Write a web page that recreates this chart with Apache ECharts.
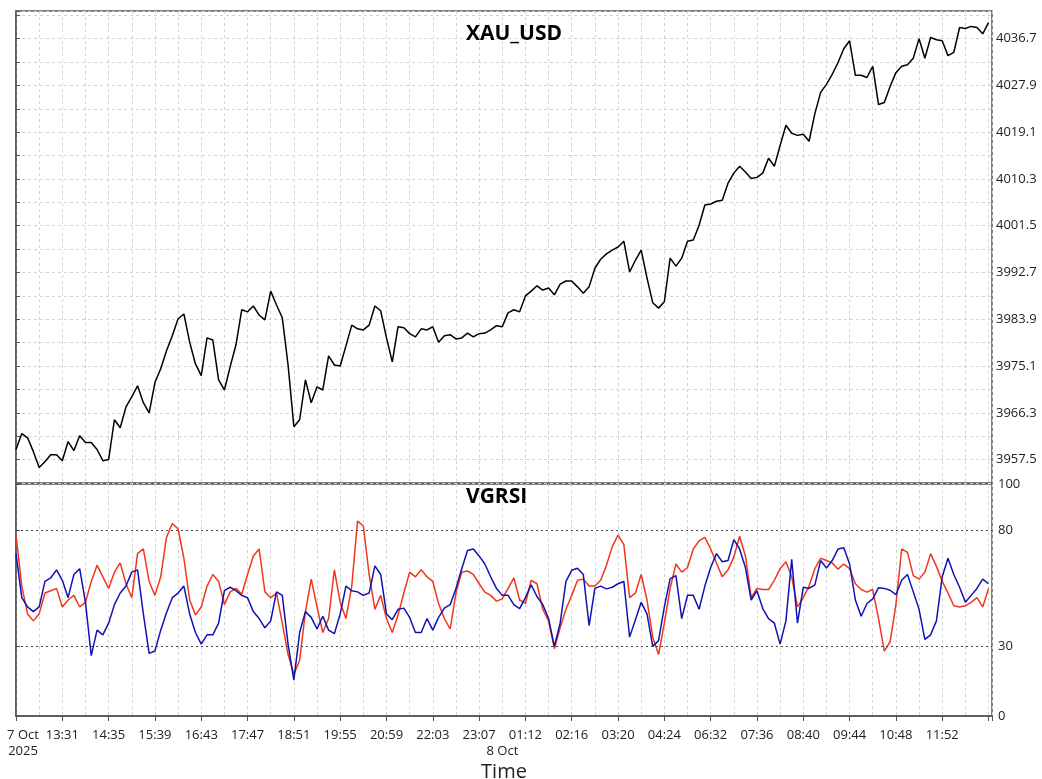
<!DOCTYPE html>
<html>
<head>
<meta charset="utf-8">
<title>XAU_USD / VGRSI</title>
<script src="https://cdn.jsdelivr.net/npm/echarts@6/dist/echarts.min.js"></script>
<style>
  html, body { margin: 0; padding: 0; background: #fff; }
  #chart { width: 1042px; height: 779px; }
</style>
</head>
<body>
<div id="chart"></div>
<script>
// one sample every 8 one-minute bars, x = sample index
const tickLabels = ['7 Oct\n2025', '13:31', '14:35', '15:39', '16:43', '17:47', '18:51', '19:55', '20:59', '22:03',
  '23:07', '01:12', '02:16', '03:20', '04:24', '06:32', '07:36', '08:40', '09:44', '10:48', '11:52']
const labelEvery = 8

const price = [3959.4, 3962.4, 3961.6, 3959.0, 3956.0, 3957.1, 3958.4, 3958.4, 3957.3, 3960.9,
  3959.2, 3962.0, 3960.7, 3960.7, 3959.4, 3957.3, 3957.5, 3965.0, 3963.5, 3967.4,
  3969.3, 3971.4, 3968.2, 3966.3, 3972.0, 3974.6, 3978.0, 3980.8, 3984.0, 3984.9,
  3979.6, 3975.5, 3973.3, 3980.4, 3980.0, 3972.5, 3970.6, 3975.0, 3979.1, 3985.7,
  3985.3, 3986.4, 3984.7, 3983.8, 3989.2, 3986.6, 3984.2, 3975.3, 3963.7, 3965.0,
  3972.5, 3968.2, 3971.2, 3970.6, 3977.0, 3975.3, 3975.1, 3978.9, 3982.8, 3982.1,
  3981.9, 3982.8, 3986.4, 3985.5, 3980.4, 3975.9, 3982.5, 3982.3, 3981.2, 3980.6,
  3982.1, 3981.9, 3982.5, 3979.6, 3980.8, 3981.0, 3980.2, 3980.4, 3981.3, 3980.6,
  3981.2, 3981.3, 3981.9, 3982.7, 3982.5, 3985.1, 3985.7, 3985.3, 3988.3, 3989.2,
  3990.2, 3989.4, 3989.8, 3988.5, 3990.5, 3991.1, 3991.1, 3990.0, 3988.8, 3990.0,
  3993.5, 3995.2, 3996.2, 3996.9, 3997.5, 3998.6, 3992.8, 3995.0, 3996.9, 3991.7,
  3987.0, 3986.0, 3987.2, 3995.4, 3993.9, 3995.4, 3998.6, 3998.8, 4001.6, 4005.4,
  4005.6, 4006.1, 4006.3, 4009.5, 4011.4, 4012.7, 4011.6, 4010.4, 4010.6, 4011.4,
  4014.2, 4012.7, 4016.6, 4020.4, 4018.9, 4018.5, 4018.7, 4017.4, 4022.6, 4026.6,
  4028.1, 4030.0, 4032.2, 4034.8, 4036.3, 4029.8, 4029.8, 4029.4, 4031.5, 4024.3,
  4024.7, 4027.7, 4030.3, 4031.5, 4031.8, 4033.0, 4036.7, 4033.0, 4036.9, 4036.5,
  4036.3, 4033.5, 4034.1, 4038.8, 4038.6, 4039.0, 4038.8, 4037.6, 4039.7]

const rsiRed = [78, 56, 44, 41, 44, 53, 54, 55, 47, 50,
  52, 47, 49, 58, 65, 60, 55, 62, 66, 57,
  51, 70, 72, 58, 52, 60, 77, 83, 80.6, 68,
  50, 43.5, 47, 56, 61, 58, 48, 53.5, 55, 52.5,
  61, 69, 72, 53.5, 51, 53, 40, 26.5, 18, 24,
  45, 59, 47, 36, 42, 63, 49, 42, 56, 84,
  82, 61, 46, 52, 42, 36, 43.5, 53, 62, 60,
  63, 60, 58, 48.5, 42, 37.5, 53, 62, 62.5, 61,
  57, 53.4, 52, 49.5, 50.5, 55, 59.5, 50, 48.5, 58.5,
  57, 46, 41, 29, 38, 46, 52, 58.5, 59, 56,
  56, 58.5, 65, 73, 78, 74, 51, 53, 61, 50,
  34, 26.5, 40, 55, 65.5, 62, 64, 72, 75.5, 77,
  72, 66, 60, 63, 68.5, 77.5, 69, 51, 55, 54.5,
  54.5, 58.5, 63.5, 66.5, 60, 47, 51, 56, 63.5, 68,
  67, 66, 63.3, 65.5, 63.5, 57, 54.5, 53.4, 54.5, 42,
  28, 32, 48, 72, 70.5, 60.5, 59, 62, 70, 64.5,
  58, 53, 47.5, 47, 47.5, 49, 51, 47, 55]

const rsiBlue = [70, 51, 47, 45, 47, 58, 59.5, 63, 58.5, 51,
  61, 63.5, 49, 26, 37, 35, 40, 48, 53, 56,
  62, 63, 44, 27, 28, 37, 44.5, 51, 53, 56,
  44, 36, 31, 35, 35, 40, 54, 55.5, 54, 52,
  51, 45, 42, 38, 41, 53.5, 52, 31, 15.5, 36,
  45, 42.5, 37.5, 43, 37, 35.5, 44, 56, 54, 53.5,
  52, 53, 64.7, 61, 44, 41.5, 46, 46.5, 42.5, 36,
  36, 42, 37, 42.5, 46.5, 48, 55, 63.5, 71.3, 72,
  69, 65.5, 60, 55, 52, 52, 48, 46.3, 51, 56.5,
  51.5, 48, 42, 30, 40, 58, 62.8, 63.7, 61, 39,
  55, 56, 54.8, 55.5, 57, 58, 34, 41.5, 49, 44,
  30, 32.5, 47, 59.2, 60.5, 42, 52, 52, 46, 56,
  64, 70, 66.5, 67, 76, 72, 64, 50, 54, 46.3,
  42, 40, 31, 41, 67.5, 40, 55.5, 55, 56.5, 67,
  63.8, 67, 72, 72.5, 65.5, 50, 43, 48.5, 50.5, 55.3,
  55, 54.2, 52.3, 58.5, 61, 53.5, 46, 33, 35, 41,
  60, 68, 61, 55.5, 49, 52, 55, 59, 57]

const rsiLevels = [30, 80]
const rsiTicks = [0, 30, 80, 100]

// price axis: ticks every 4.4, labelled every 8.8 starting at 3957.5
const priceBase = 3953.1
const priceStep = 4.4

const FONT = '"Open Sans", "DejaVu Sans", sans-serif'
const gridLine = { show: true, lineStyle: { color: '#d4d4d4', type: [3, 3], width: 1 } }

const chart = echarts.init(document.getElementById('chart'))

const xAxisBase = (gridIndex) => ({
  type: 'value',
  gridIndex,
  min: 0,
  max: 168.6,
  interval: labelEvery,
  axisLine: { show: false },
  splitLine: gridLine,
  minorTick: { show: false, splitNumber: 2 },
  minorSplitLine: gridLine
})

chart.setOption({
  animation: false,
  backgroundColor: '#fff',
  textStyle: { fontFamily: FONT },
  title: [
    {
      text: 'XAU_USD', left: 466, top: 24, padding: 0,
      textStyle: { fontSize: 21, fontWeight: 'bold', color: '#000', fontFamily: FONT }
    },
    {
      text: 'VGRSI', left: 466, top: 487, padding: 0,
      textStyle: { fontSize: 21, fontWeight: 'bold', color: '#000', fontFamily: FONT }
    }
  ],
  grid: [
    { left: 16, top: 11, width: 976, height: 472, show: true, borderColor: '#555', borderWidth: 1.5, outerBoundsMode: 'none', containLabel: false },
    { left: 16, top: 484, width: 976, height: 232, show: true, borderColor: '#555', borderWidth: 1.5, outerBoundsMode: 'none', containLabel: false }
  ],
  xAxis: [
    Object.assign(xAxisBase(0), {
      axisTick: { show: false },
      axisLabel: { show: false }
    }),
    Object.assign(xAxisBase(1), {
      axisLine: { show: true, lineStyle: { color: '#555', width: 1.5 } },
      axisTick: { show: true, length: 5, lineStyle: { color: '#555' } },
      axisLabel: {
        color: '#222',
        fontSize: 13,
        lineHeight: 16,
        margin: 11,
        fontFamily: FONT,
        formatter: (v) => {
          const k = Math.round(v / labelEvery)
          if (Math.abs(v - k * labelEvery) > 1e-6 || !tickLabels[k]) return ''
          if (k === 0) {
            const [a, b] = tickLabels[0].split('\n')
            return '{s|' + a + '}\n{s|' + b + '}'
          }
          if (tickLabels[k] === '01:12') return '01:12\n{d|8 Oct}'
          return tickLabels[k]
        },
        rich: {
          s: { padding: [0, 0, 0, 14], fontSize: 13, color: '#222', fontFamily: FONT, lineHeight: 16 },
          d: { padding: [0, 46, 0, 0], fontSize: 13, color: '#222', fontFamily: FONT, lineHeight: 16 }
        }
      },
      name: 'Time',
      nameLocation: 'middle',
      nameGap: 46,
      nameTextStyle: { fontSize: 20, color: '#222', fontFamily: FONT }
    })
  ],
  yAxis: [
    {
      type: 'value',
      gridIndex: 0,
      position: 'right',
      min: 0,
      max: 88.8,
      interval: priceStep,
      axisLine: { show: true, lineStyle: { color: '#555', width: 1.5 } },
      axisTick: { show: true, length: 4, lineStyle: { color: '#555' } },
      splitLine: gridLine,
      axisLabel: {
        color: '#222',
        fontSize: 13,
        margin: 4,
        fontFamily: FONT,
        formatter: (v) => {
          const k = Math.round(v / priceStep)
          if (Math.abs(v - k * priceStep) > 1e-6 || k % 2 === 0) return ''
          return (priceBase + k * priceStep).toFixed(1)
        }
      }
    },
    {
      type: 'value',
      gridIndex: 1,
      position: 'right',
      min: 0,
      max: 100,
      axisLine: { show: true, lineStyle: { color: '#555', width: 1.5 } },
      axisTick: { show: true, length: 4, customValues: rsiTicks, lineStyle: { color: '#555' } },
      splitLine: { show: false },
      axisLabel: { color: '#222', fontSize: 13, margin: 6, fontFamily: FONT, customValues: rsiTicks }
    }
  ],
  series: [
    {
      name: 'XAU_USD',
      type: 'line',
      xAxisIndex: 0,
      yAxisIndex: 0,
      showSymbol: false,
      data: price.map((p, i) => [i, p - priceBase]),
      lineStyle: { color: '#000', width: 1.5 }
    },
    {
      name: 'VGRSI red',
      type: 'line',
      xAxisIndex: 1,
      yAxisIndex: 1,
      showSymbol: false,
      data: rsiRed.map((v, i) => [i, v]),
      lineStyle: { color: '#f0361c', width: 1.5 },
      markLine: {
        silent: true,
        symbol: 'none',
        label: { show: false },
        lineStyle: { color: '#444', type: [2, 3], width: 1 },
        data: rsiLevels.map((v) => ({ yAxis: v }))
      }
    },
    {
      name: 'VGRSI blue',
      type: 'line',
      xAxisIndex: 1,
      yAxisIndex: 1,
      showSymbol: false,
      data: rsiBlue.map((v, i) => [i, v]),
      lineStyle: { color: '#1012b4', width: 1.5 }
    }
  ]
})
</script>
</body>
</html>
